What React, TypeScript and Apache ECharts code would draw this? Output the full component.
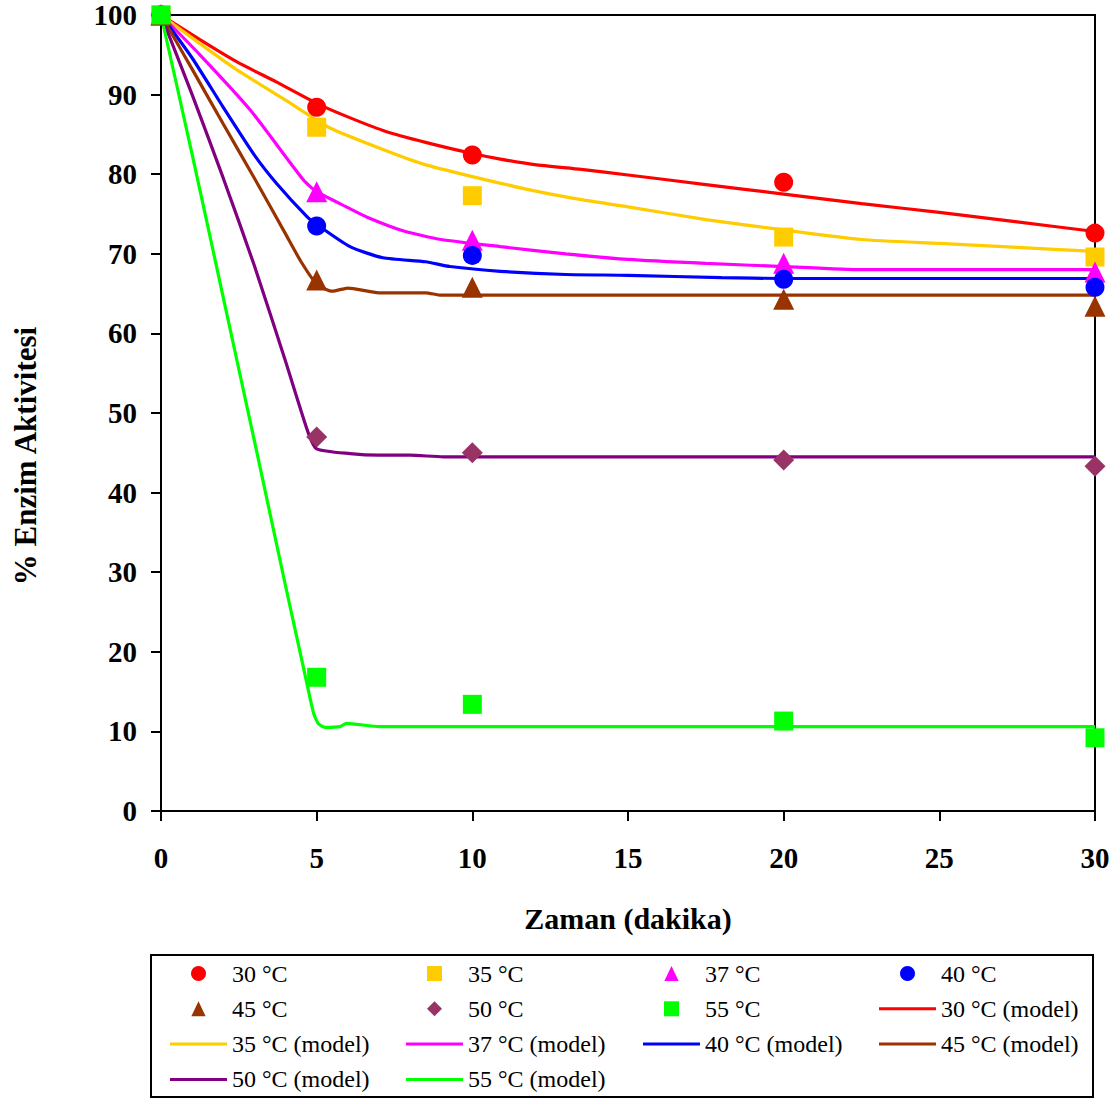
import React, { useEffect, useRef } from "react";
import * as echarts from "echarts";

// ---------- DATA ----------
const measureTimes = [0, 5, 10, 20, 30];

const obs30 = [100, 88.4, 82.4, 79.0, 72.6];
const obs35 = [100, 85.9, 77.3, 72.1, 69.6];
const obs37 = [100, 77.8, 71.7, 68.8, 67.7];
const obs40 = [100, 73.5, 69.8, 66.8, 65.8];
const obs45 = [100, 66.7, 65.8, 64.3, 63.4];
const obs50 = [100, 47.0, 45.0, 44.1, 43.3];
const obs55 = [100, 16.8, 13.4, 11.3, 9.2];

const model30 = [[0,100],[1.25,96.9],[2.44,94.1],[3.7,91.6],[5,88.9],[6,87.2],[7.13,85.5],[8.5,84.0],[10,82.6],[10.9,81.9],[12,81.2],[13.5,80.6],[15,79.9],[17.5,78.7],[20,77.5],[22.5,76.3],[25,75.2],[27.5,74.0],[30,72.8]];
const model35 = [[0,100],[1.25,96.4],[2.44,93.1],[4,89.3],[5.43,85.8],[7.13,83.1],[8.4,81.3],[10,79.7],[12,77.9],[13.5,76.8],[15,75.9],[17.5,74.3],[20,73.0],[22.5,71.8],[25,71.3],[27.5,70.8],[30,70.3]];
const model37 = [[0,100],[1.25,95],[2.86,88.1],[4.57,79.3],[5,77.8],[6,75.8],[6.62,74.6],[7.77,72.9],[9,71.8],[10.9,70.9],[13,70.0],[15,69.3],[17.5,68.8],[20,68.4],[22.5,68.0],[30,68.0]];
const model40 = [[0,100],[1,94.6],[2,88.4],[3,82.4],[3.72,78.8],[4.68,74.7],[5,73.7],[6.07,70.9],[7.13,69.5],[8.5,69.0],[9.28,68.4],[10.9,67.8],[13,67.4],[15,67.3],[18,67.0],[20,66.9],[30,66.9]];
const model45 = [[0,100],[1,93.2],[2,86.3],[3,79.5],[4,72.5],[4.5,69.0],[5,66.2],[5.5,65.3],[6,65.7],[7,65.1],[8.5,65.1],[9,64.8],[30,64.8]];
const model50 = [[0,100],[1,90.0],[2,79.5],[3,68.5],[4,56.5],[4.73,47.5],[5,45.5],[6.07,44.9],[7,44.7],[8,44.7],[9.06,44.5],[30,44.5]];
const model55 = [[0,100],[1,82.5],[2,64.5],[3,46.5],[4,28.3],[4.56,18.3],[4.9,12.3],[5.05,11.0],[5.27,10.5],[5.75,10.6],[5.96,11.0],[7.03,10.6],[30,10.6]];

const xTicks = { min: 0, max: 30, interval: 5 };
const yTicks = { min: 0, max: 100, interval: 10 };

const xTitle = "Zaman (dakika)";
const yTitle = "% Enzim Aktivitesi";

// ---------- STYLE ----------
const FONT = "'Liberation Serif', 'Times New Roman', serif";

const ICON_SQUARE = "path://M0,0L10,0L10,10L0,10Z";
const ICON_TRIANGLE = "path://M5,0L10,10.5L0,10.5Z";
const ICON_DIAMOND = "path://M5,0L10,5L5,10L0,5Z";
const ICON_LINE = "path://M0,0L57,0L57,3L0,3Z";

const scatterDefs = [
  { name: "30 °C", data: obs30, color: "#FF0000", symbol: "circle", size: 19, icon: "circle" },
  { name: "35 °C", data: obs35, color: "#FFCC00", symbol: "rect", size: 19, icon: ICON_SQUARE },
  { name: "37 °C", data: obs37, color: "#FF00FF", symbol: "triangle", size: 21, icon: ICON_TRIANGLE },
  { name: "40 °C", data: obs40, color: "#0000FF", symbol: "circle", size: 19, icon: "circle" },
  { name: "45 °C", data: obs45, color: "#993300", symbol: "triangle", size: 21, icon: ICON_TRIANGLE },
  { name: "50 °C", data: obs50, color: "#993366", symbol: "diamond", size: 21, icon: ICON_DIAMOND },
  { name: "55 °C", data: obs55, color: "#00FF00", symbol: "rect", size: 19, icon: ICON_SQUARE },
];

const lineDefs = [
  { name: "30 °C (model)", data: model30, color: "#FF0000" },
  { name: "35 °C (model)", data: model35, color: "#FFCC00" },
  { name: "37 °C (model)", data: model37, color: "#FF00FF" },
  { name: "40 °C (model)", data: model40, color: "#0000FF" },
  { name: "45 °C (model)", data: model45, color: "#993300" },
  { name: "50 °C (model)", data: model50, color: "#800080" },
  { name: "55 °C (model)", data: model55, color: "#00FF00" },
];

const legendColumns = [
  { left: 170, items: ["30 °C", "45 °C", "35 °C (model)", "50 °C (model)"] },
  { left: 406, items: ["35 °C", "50 °C", "37 °C (model)", "55 °C (model)"] },
  { left: 643, items: ["37 °C", "55 °C", "40 °C (model)"] },
  { left: 879, items: ["40 °C", "30 °C (model)", "45 °C (model)"] },
];

function iconFor(name: string): string {
  const s = scatterDefs.find((d) => d.name === name);
  return s ? s.icon : ICON_LINE;
}

export default function App() {
  const ref = useRef<HTMLDivElement>(null);

  useEffect(() => {
    if (!ref.current) return;
    const chart = echarts.init(ref.current, undefined, { renderer: "svg" });

    const series: any[] = [];
    scatterDefs.forEach((s) => {
      series.push({
        type: "scatter",
        name: s.name,
        data: measureTimes.map((t, i) => [t, s.data[i]]),
        symbol: s.symbol,
        symbolSize: s.size,
        itemStyle: { color: s.color, opacity: 1 },
        z: 3,
      });
    });
    lineDefs.forEach((l) => {
      series.push({
        type: "line",
        name: l.name,
        data: l.data,
        symbol: "none",
        smooth: 0.2,
        lineStyle: { color: l.color, width: 3.2 },
        itemStyle: { color: l.color },
        z: 2,
      });
    });

    const legends = legendColumns.map((c) => ({
      orient: "vertical",
      left: c.left,
      top: 961,
      padding: 0,
      itemGap: 10.3,
      itemWidth: 57,
      itemHeight: 15,
      selectedMode: false,
      symbolKeepAspect: true,
      data: c.items.map((n) => ({ name: n, icon: iconFor(n) })),
      textStyle: { fontFamily: FONT, fontSize: 24, color: "#000", lineHeight: 25 },
    }));

    chart.setOption({
      animation: false,
      backgroundColor: "#fff",
      grid: {
        left: 161,
        right: 25,
        top: 15,
        bottom: 288,
        show: true,
        borderColor: "#000",
        borderWidth: 2,
        backgroundColor: "transparent",
      },
      xAxis: {
        type: "value",
        min: xTicks.min,
        max: xTicks.max,
        interval: xTicks.interval,
        axisLine: { show: true, lineStyle: { color: "#000", width: 2 } },
        axisTick: { show: true, inside: false, length: 10, lineStyle: { color: "#000", width: 2 } },
        splitLine: { show: false },
        axisLabel: { margin: 32, fontFamily: FONT, fontSize: 29, fontWeight: "bold", color: "#000" },
      },
      yAxis: {
        type: "value",
        min: yTicks.min,
        max: yTicks.max,
        interval: yTicks.interval,
        axisLine: { show: true, lineStyle: { color: "#000", width: 2 } },
        axisTick: { show: true, inside: false, length: 10, lineStyle: { color: "#000", width: 2 } },
        splitLine: { show: false },
        axisLabel: { margin: 24, fontFamily: FONT, fontSize: 29, fontWeight: "bold", color: "#000" },
      },
      legend: legends,
      graphic: [
        {
          type: "text",
          x: 628,
          y: 918,
          style: {
            text: xTitle,
            fontFamily: FONT,
            fontSize: 30,
            fontWeight: "bold",
            fill: "#000",
            align: "center",
            verticalAlign: "middle",
          },
        },
        {
          type: "text",
          x: 25,
          y: 456,
          rotation: Math.PI / 2,
          style: {
            text: yTitle,
            fontFamily: FONT,
            fontSize: 31,
            fontWeight: "bold",
            fill: "#000",
            align: "center",
            verticalAlign: "middle",
          },
        },
        {
          type: "rect",
          shape: { x: 151, y: 955, width: 942, height: 142 },
          style: { fill: "none", stroke: "#000", lineWidth: 2 },
          silent: true,
        },
      ],
      series,
    });

    return () => chart.dispose();
  }, []);

  return (
    <div
      ref={ref}
      style={{ position: "absolute", left: 0, top: 0, width: 1120, height: 1099 }}
    />
  );
}
